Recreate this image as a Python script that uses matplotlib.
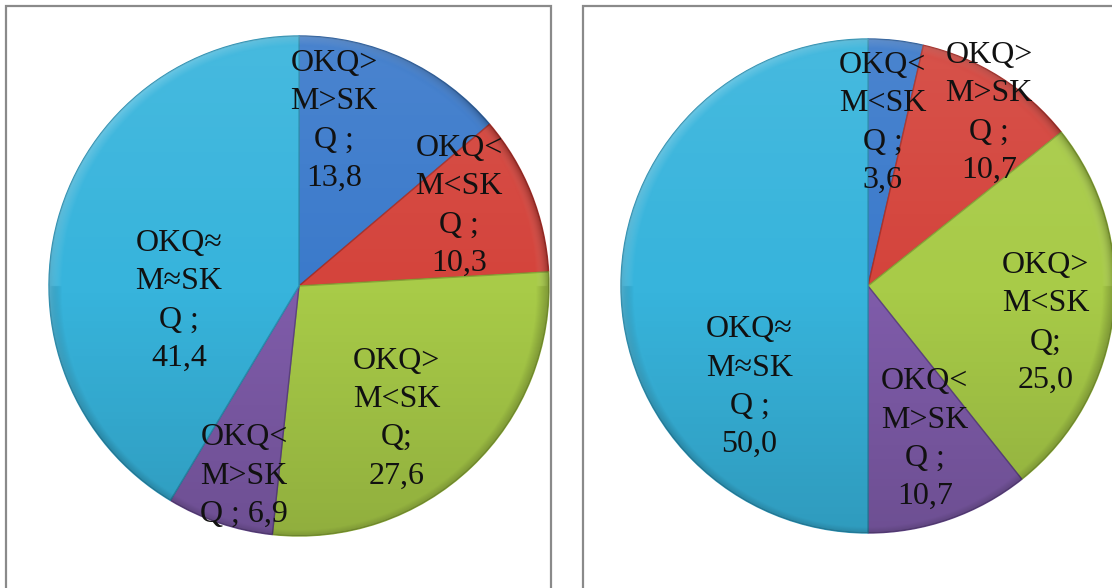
import numpy as np
import matplotlib.pyplot as plt
from matplotlib.patches import Rectangle, Circle

# slices go clockwise from 12 o'clock
left_names = ['OKQ>M>SKQ', 'OKQ<M<SKQ', 'OKQ>M<SKQ', 'OKQ<M>SKQ', 'OKQ≈M≈SKQ']
left_values = [13.8, 10.3, 27.6, 6.9, 41.4]
right_names = ['OKQ<M<SKQ', 'OKQ>M>SKQ', 'OKQ>M<SKQ', 'OKQ<M>SKQ', 'OKQ≈M≈SKQ']
right_values = [3.6, 10.7, 25.0, 10.7, 50.0]

colors = ['#3b7acb', '#d4443c', '#a8cb48', '#7f5caa', '#37b4dc']
edges = ['#2c5f9e', '#a8302a', '#86a436', '#5f4384', '#2a90b2']

# label separators and positions (fraction of radius from the centre)
left_seps = [' ;\n', ' ;\n', ';\n', ' ; ', ' ;\n']
left_pos = [(0.14, 0.66), (0.64, 0.32), (0.39, -0.53), (-0.22, -0.76), (-0.48, -0.06)]
right_seps = [' ;\n', ' ;\n', ';\n', ' ;\n', ' ;\n']
right_pos = [(0.06, 0.66), (0.49, 0.70), (0.72, -0.15), (0.23, -0.62), (-0.48, -0.41)]

W, H = 1112, 588
fig = plt.figure(figsize=(W / 100, H / 100), dpi=100)

# panel frames
fig.add_artist(Rectangle((6 / W, -0.02), 545 / W, (H - 6) / H + 0.02, transform=fig.transFigure,
                         fill=False, edgecolor='#8a8a8a', lw=1.6))
fig.add_artist(Rectangle((583 / W, -0.02), 560 / W, (H - 6) / H + 0.02, transform=fig.transFigure,
                         fill=False, edgecolor='#8a8a8a', lw=1.6))


def label(name, value, sep):
    return name[:4] + '\n' + name[4:8] + '\n' + name[8:] + sep + f'{value:.1f}'.replace('.', ',')


def draw_pie(cx, cy, r, names, values, seps, pos):
    ax = fig.add_axes([(cx - r) / W, (H - cy - r) / H, 2 * r / W, 2 * r / H])
    wedges, _ = ax.pie(values, colors=colors, startangle=90, counterclock=False, radius=1,
                       wedgeprops=dict(linewidth=1.0))
    for w, ec in zip(wedges, edges):
        w.set_edgecolor(ec)
    ax.set_aspect('auto')
    ax.axis('off')

    # soft shading: lighter at the top, darker toward the bottom and the rim
    yy, xx = np.mgrid[1:-1:400j, -1:1:400j]
    rr = np.sqrt(xx ** 2 + yy ** 2)
    shade = np.zeros((400, 400, 4))
    top = np.clip(yy, 0, 1)
    bot = np.clip(-yy, 0, 1)
    shade[..., :3] = np.where(yy[..., None] > 0, 1.0, 0.0)
    shade[..., 3] = 0.08 * top + 0.14 * bot
    rim = np.clip((rr - 0.95) / 0.05, 0, 1)
    hl = np.clip((xx * -0.6 + yy * 0.8), 0, 1)
    shade[..., :3] = shade[..., :3] * (1 - rim[..., None]) + rim[..., None] * hl[..., None]
    shade[..., 3] = np.maximum(shade[..., 3], rim * 0.25)
    im = ax.imshow(shade, extent=(-1, 1, -1, 1), zorder=3, interpolation='bilinear')
    im.set_clip_path(Circle((0, 0), 1, transform=ax.transData))
    ax.set_xlim(-1, 1)
    ax.set_ylim(-1, 1)

    for name, v, sep, (x, y) in zip(names, values, seps, pos):
        ax.text(x, y, label(name, v, sep), ha='center', va='center', fontsize=23,
                family=['Liberation Serif', 'DejaVu Serif'], color='#111111',
                linespacing=1.42, zorder=5)


draw_pie(299, 286, 250, left_names, left_values, left_seps, left_pos)
draw_pie(868, 286, 247, right_names, right_values, right_seps, right_pos)

fig.savefig('out.png', dpi=100, facecolor='white')
